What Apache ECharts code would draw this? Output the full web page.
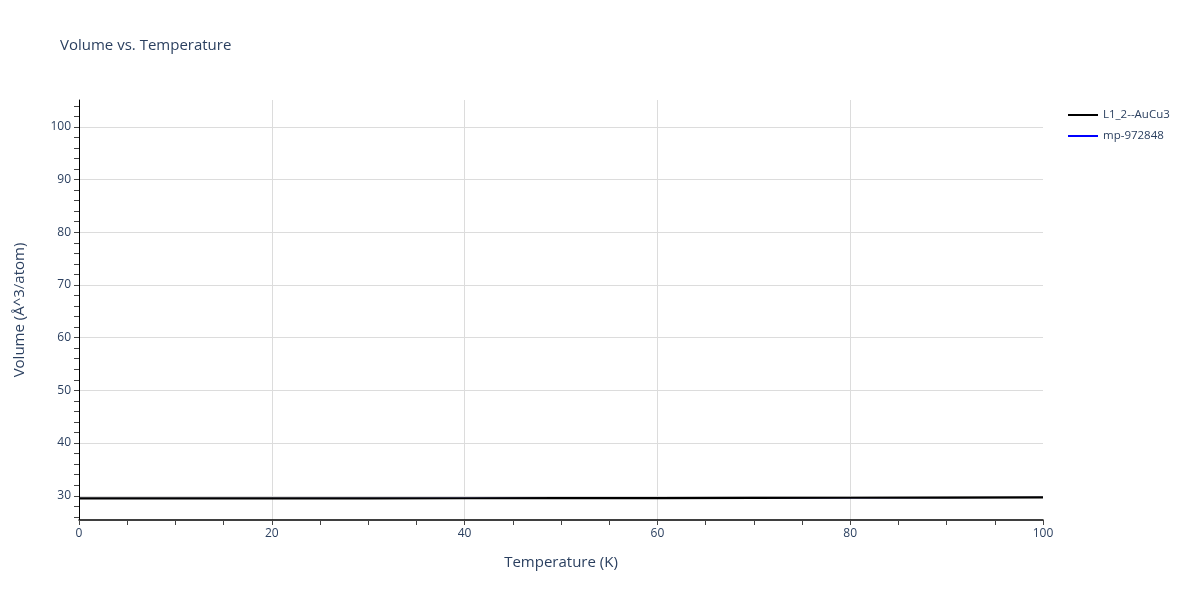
<!DOCTYPE html>
<html>
<head>
<meta charset="utf-8">
<script src="https://cdn.jsdelivr.net/npm/echarts@6/dist/echarts.min.js"></script>
<style>html,body{margin:0;padding:0;background:#fff}#c{width:1200px;height:600px}</style>
</head>
<body>
<div id="c"></div>
<script>
const temperatures = [0, 10, 20, 30, 40, 50, 60, 70, 80, 90, 100];
const volAuCu3 = [29.49, 29.49, 29.50, 29.51, 29.53, 29.55, 29.57, 29.59, 29.62, 29.65, 29.68];
const volMp972848 = [29.49, 29.49, 29.50, 29.51, 29.53, 29.55, 29.57, 29.59, 29.62, 29.65, 29.68];
const yLabelValues = [30, 40, 50, 60, 70, 80, 90, 100];
const yTickValues = [26, 28, 30, 32, 34, 36, 38, 40, 42, 44, 46, 48, 50, 52, 54, 56, 58, 60, 62, 64, 66, 68, 70, 72, 74, 76, 78, 80, 82, 84, 86, 88, 90, 92, 94, 96, 98, 100, 102, 104];
const seriesNames = ['L1_2--AuCu3', 'mp-972848'];

const txt = '#2a3f5f';
const font = '"Open Sans", sans-serif';
const chart = echarts.init(document.getElementById('c'));
chart.setOption({
  backgroundColor: '#fff',
  animation: false,
  title: {
    text: 'Volume vs. Temperature', left: 60, top: 38, padding: 0,
    textStyle: {fontFamily: font, fontSize: 15, fontWeight: 'normal', color: txt}
  },
  legend: {
    data: seriesNames, orient: 'vertical', left: 1068, top: 109, padding: 0,
    icon: 'rect', itemWidth: 30, itemHeight: 2, itemGap: 9,
    textStyle: {fontFamily: font, fontSize: 11.5, color: txt}
  },
  grid: {left: 79, right: 157, top: 100, bottom: 80, containLabel: false},
  xAxis: {
    type: 'value', min: 0, max: 100, interval: 20,
    name: 'Temperature (K)', nameLocation: 'middle', nameGap: 35,
    nameTextStyle: {fontFamily: font, fontSize: 15, color: txt},
    axisLine: {show: true, onZero: false, lineStyle: {color: '#000', width: 1.5}},
    axisTick: {show: true, inside: false, length: 5, lineStyle: {color: '#444'}},
    minorTick: {show: true, splitNumber: 4, length: 5, lineStyle: {color: '#444'}},
    axisLabel: {fontFamily: font, fontSize: 12, color: txt, margin: 8},
    splitLine: {show: true, showMinLine: false, showMaxLine: false, lineStyle: {color: '#dcdcdc', width: 1}}
  },
  yAxis: [{
    type: 'value', min: 25.4, max: 105.1,
    name: 'Volume (Å^3/atom)', nameLocation: 'middle', nameGap: 52,
    nameTextStyle: {fontFamily: font, fontSize: 15, color: txt},
    axisLine: {show: true, onZero: false, lineStyle: {color: '#000', width: 1}},
    axisTick: {show: true, inside: false, length: 5, customValues: yTickValues, lineStyle: {color: '#444'}},
    axisLabel: {fontFamily: font, fontSize: 12, color: txt, margin: 8, customValues: yLabelValues},
    splitLine: {show: false}
  }, {
    type: 'value', min: 25.4, max: 105.1, position: 'left',
    axisLine: {show: false}, axisLabel: {show: false},
    axisTick: {show: false, customValues: yLabelValues},
    splitLine: {show: true, lineStyle: {color: '#dcdcdc', width: 1}}
  }],
  series: [{
    name: seriesNames[1], type: 'line', showSymbol: false, z: 2,
    data: temperatures.map((t, i) => [t, volMp972848[i]]),
    lineStyle: {color: '#0000ff', width: 1}, itemStyle: {color: '#0000ff'}
  }, {
    name: seriesNames[0], type: 'line', showSymbol: false, z: 3,
    data: temperatures.map((t, i) => [t, volAuCu3[i]]),
    lineStyle: {color: '#000000', width: 2.2}, itemStyle: {color: '#000000'}
  }]
});
</script>
</body>
</html>
